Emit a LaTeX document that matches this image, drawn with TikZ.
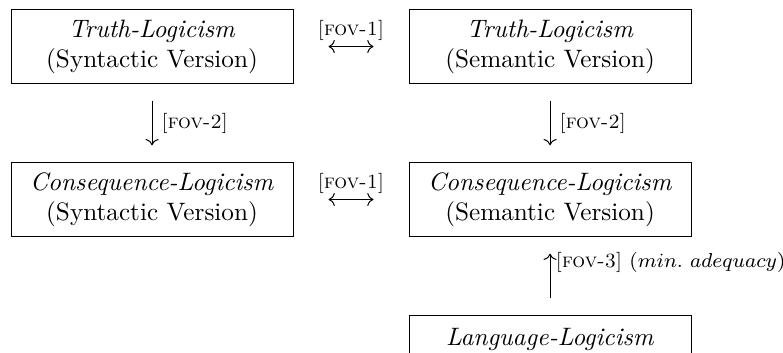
\documentclass[tikz,border=0pt]{standalone}
\usepackage{amsmath, amssymb}
\usepackage{tikz}
\usetikzlibrary{arrows.meta,positioning}

\begin{document}
\begin{tikzpicture}[
    logbox/.style={draw, thin, align=center, minimum width=111.9pt, minimum height=29pt, inner sep=0pt},
    fovlab/.style={font=\footnotesize, inner sep=2.5pt},
    vlink/.style={-To, thin, shorten <=6.8pt, shorten >=6.8pt},
    hlink/.style={To-To, thin, shorten <=13.9pt, shorten >=13.9pt}]
  \useasboundingbox (0,0) rectangle (10.92,-4.91);
  % syntactic side
  \node[logbox] (truthsyn) at (2.12,-0.649) {\textit{Truth-Logicism}\\(Syntactic Version)};
  \node[logbox] (conssyn) at (2.12,-2.782) {\textit{Consequence-Logicism}\\(Syntactic Version)};
  % semantic side
  \node[logbox] (truthsem) at (7.671,-0.649) {\textit{Truth-Logicism}\\(Semantic Version)};
  \node[logbox] (conssem) at (7.671,-2.782) {\textit{Consequence-Logicism}\\(Semantic Version)};
  \node[logbox] (lang) at (7.671,-4.916) {\textit{Language-Logicism}\\\mbox{}};

  \draw[hlink] (truthsyn) -- node[fovlab, above, yshift=-0.5pt] {\textsc{[fov-1]}} (truthsem);
  \draw[hlink] (conssyn) -- node[fovlab, above, yshift=-0.5pt] {\textsc{[fov-1]}} (conssem);
  \draw[vlink] (truthsyn) -- node[fovlab, right, xshift=1pt] {\textsc{[fov-2]}} (conssyn);
  \draw[vlink] (truthsem) -- node[fovlab, right, xshift=1pt] {\textsc{[fov-2]}} (conssem);
  \draw[vlink] (lang) -- node[fovlab, right, pos=0.675, xshift=-0.5pt] {\textsc{[fov-3]} $(min.\ adequacy)$} (conssem);
\end{tikzpicture}
\end{document}
